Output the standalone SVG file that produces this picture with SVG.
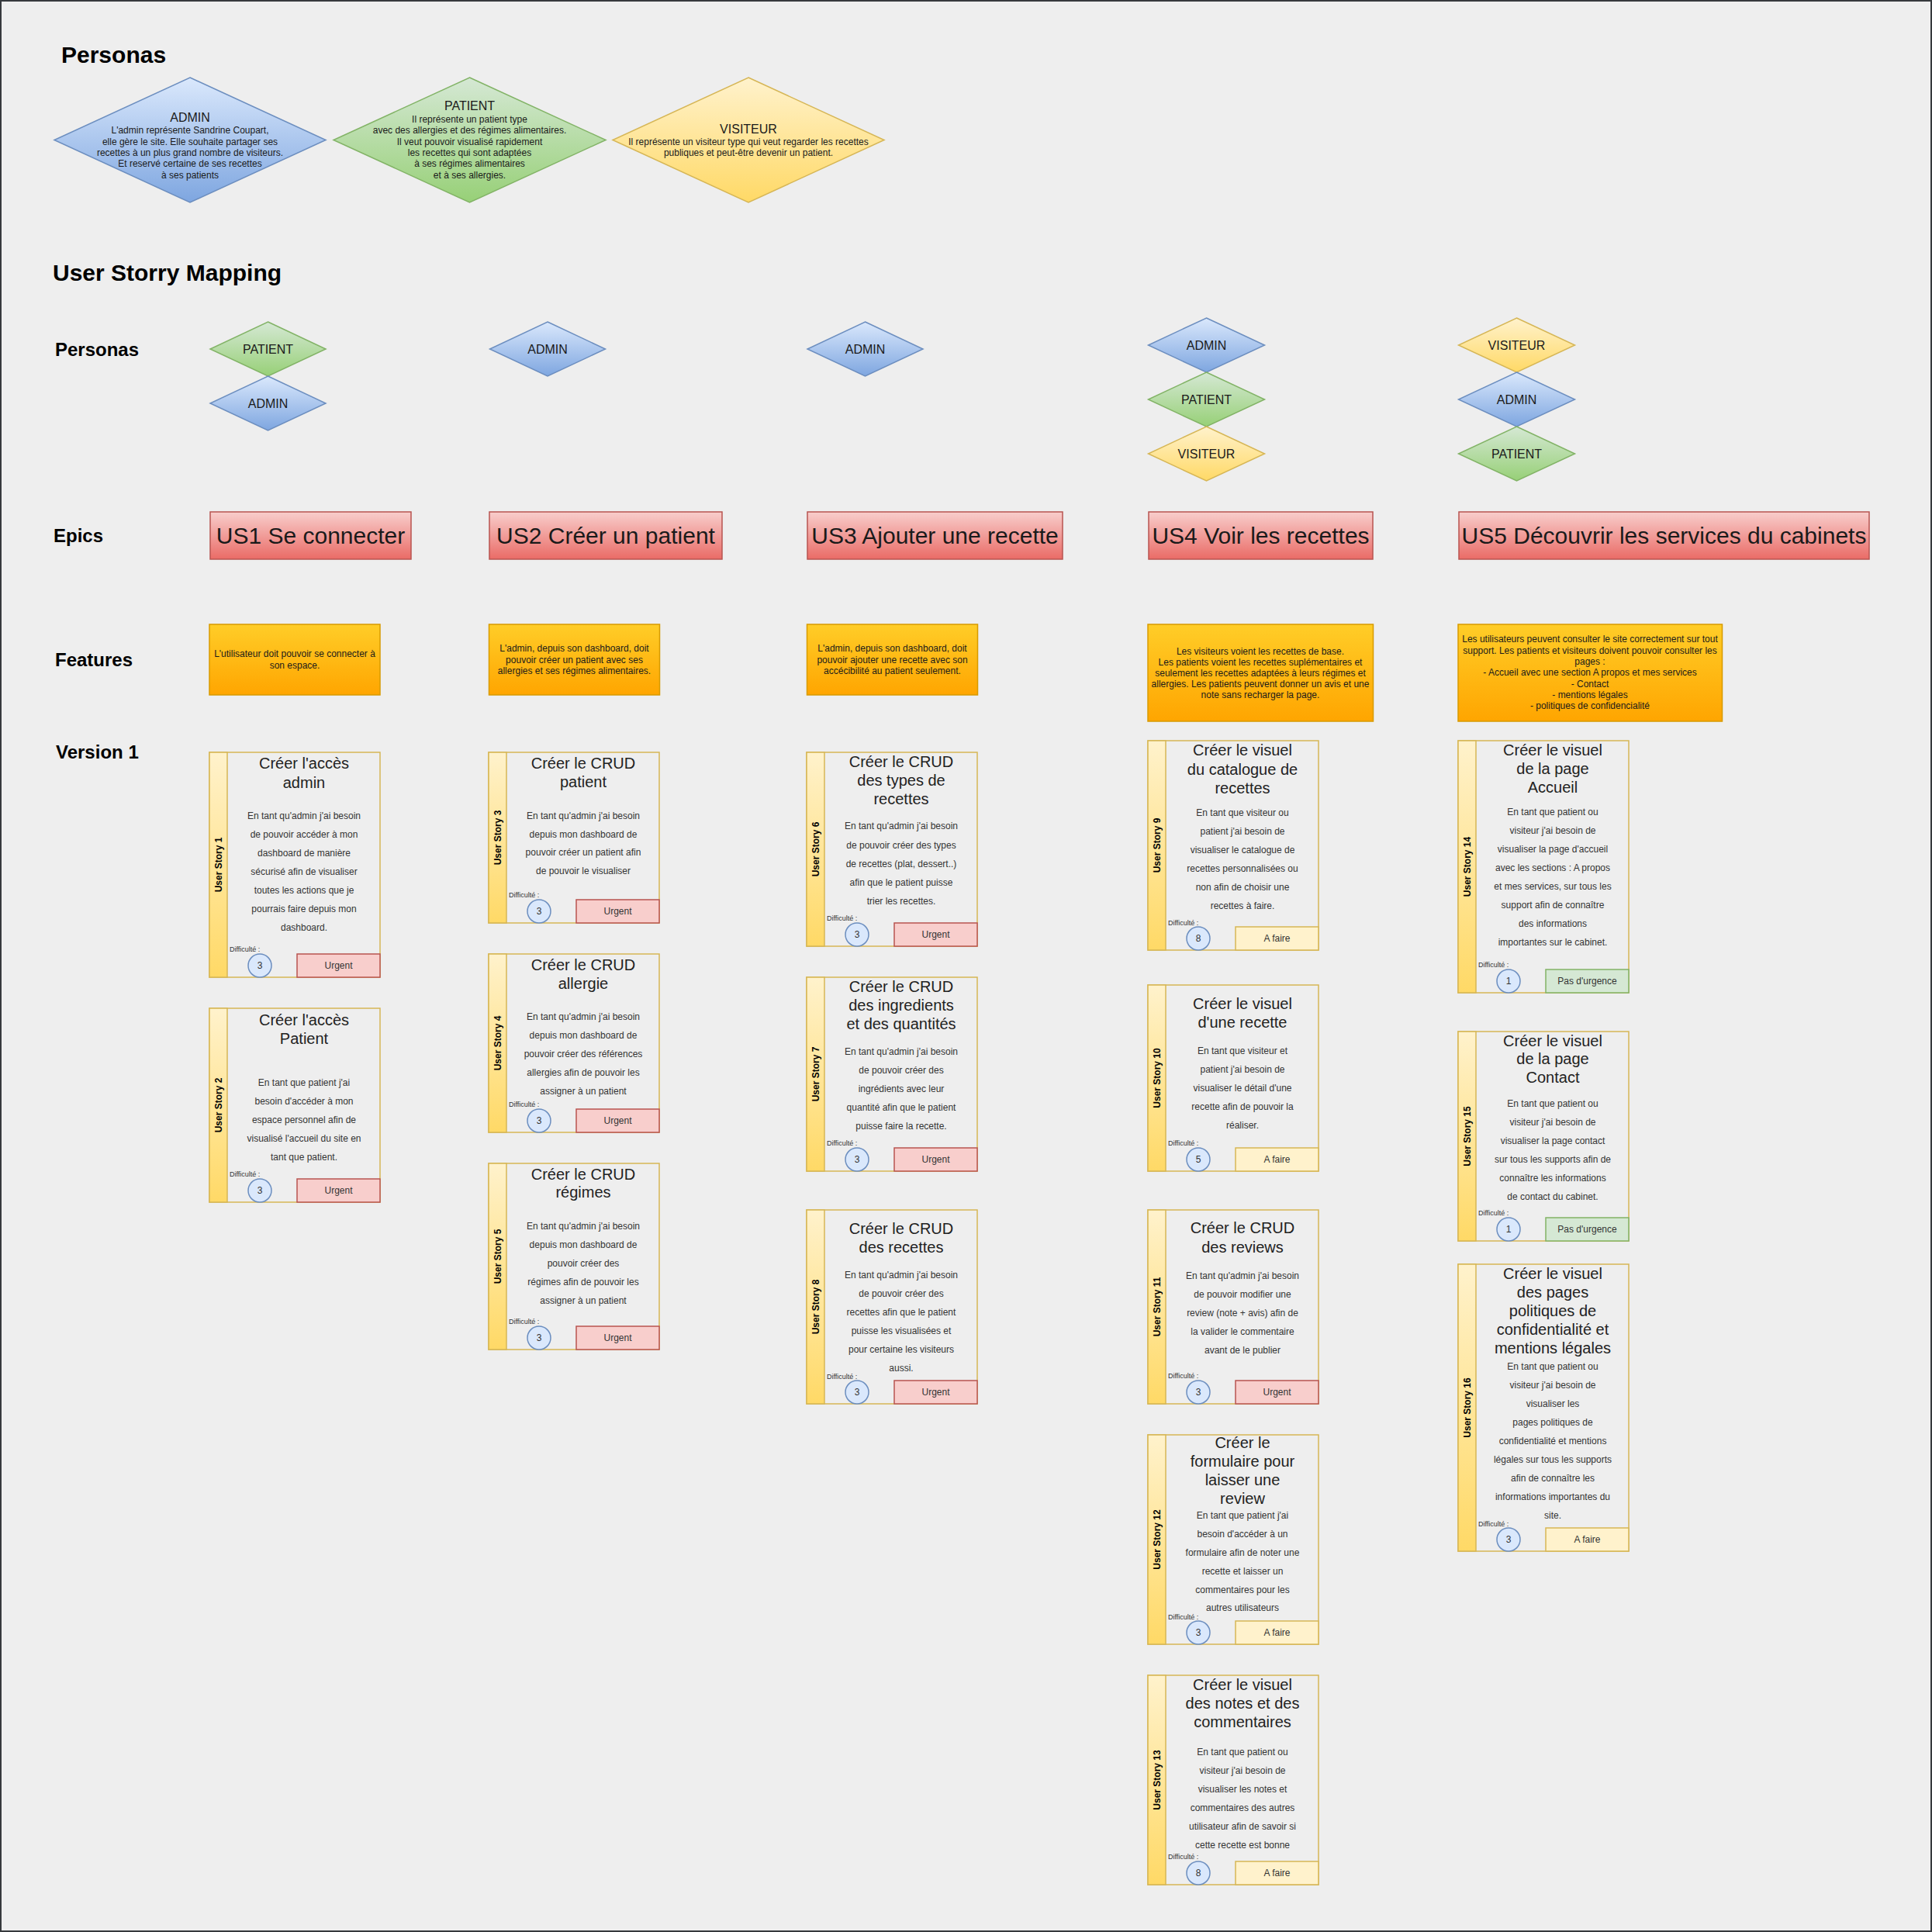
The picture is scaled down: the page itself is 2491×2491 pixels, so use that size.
<svg xmlns="http://www.w3.org/2000/svg" width="2491" height="2491" viewBox="0 0 2491 2491">
<defs>
<linearGradient id="gAdmin" x1="0" y1="0" x2="0" y2="1"><stop offset="0" stop-color="#dae8fc"/><stop offset="1" stop-color="#7ea6e0"/></linearGradient>
<linearGradient id="gPatient" x1="0" y1="0" x2="0" y2="1"><stop offset="0" stop-color="#d5e8d4"/><stop offset="1" stop-color="#97d077"/></linearGradient>
<linearGradient id="gVisit" x1="0" y1="0" x2="0" y2="1"><stop offset="0" stop-color="#fff2cc"/><stop offset="1" stop-color="#ffd966"/></linearGradient>
<linearGradient id="gEpic" x1="0" y1="0" x2="0" y2="1"><stop offset="0" stop-color="#f8cecc"/><stop offset="1" stop-color="#ea6b66"/></linearGradient>
<linearGradient id="gFeat" x1="0" y1="0" x2="0" y2="1"><stop offset="0" stop-color="#ffcd28"/><stop offset="1" stop-color="#ffa500"/></linearGradient>
</defs>
<style>
text{font-family:"Liberation Sans",Arial,sans-serif;fill:#1a1a1a;dominant-baseline:central;}
.hd{font-size:30px;font-weight:bold;fill:#000;}
.row{font-size:24px;font-weight:bold;fill:#000;}
.pa{fill:url(#gAdmin);stroke:#6c8ebf;stroke-width:1.5;}
.pp{fill:url(#gPatient);stroke:#82b366;stroke-width:1.5;}
.pv{fill:url(#gVisit);stroke:#d6b656;stroke-width:1.5;}
.pt{font-size:16px;text-anchor:middle;}
.pb{font-size:12px;text-anchor:middle;}
.epic{fill:url(#gEpic);stroke:#b85450;stroke-width:1.5;}
.et{font-size:30px;text-anchor:middle;}
.feat{fill:url(#gFeat);stroke:#d79b00;stroke-width:1.5;}
.ft{font-size:12px;text-anchor:middle;}
.cb{fill:#eeeeee;stroke:#d6b656;stroke-width:1.5;}
.cbar{fill:url(#gVisit);stroke:#d6b656;stroke-width:1.5;}
.vl{font-size:12px;font-weight:bold;text-anchor:middle;fill:#000;}
.ttl{font-size:20px;text-anchor:middle;fill:#222;}
.bdy{font-size:12px;text-anchor:middle;fill:#333;}
.dif{font-size:9px;fill:#333;}
.circ{fill:#dae8fc;stroke:#6c8ebf;stroke-width:1.5;}
.num{font-size:12px;text-anchor:middle;fill:#333;}
.urg{fill:#f8cecc;stroke:#b85450;stroke-width:1.5;}
.todo{fill:#fff2cc;stroke:#d6b656;stroke-width:1.5;}
.ok{fill:#d5e8d4;stroke:#82b366;stroke-width:1.5;}
.st{font-size:12px;text-anchor:middle;fill:#333;}
</style>
<rect x="1" y="1" width="2489" height="2489" fill="#eeeeee" stroke="#36393d" stroke-width="2"/>

<g id="labels">
<text class="hd" x="79" y="70">Personas</text>
<text class="hd" x="68" y="351">User Storry Mapping</text>
<text class="row" x="71" y="450">Personas</text>
<text class="row" x="69" y="690">Epics</text>
<text class="row" x="71" y="850">Features</text>
<text class="row" x="72" y="969">Version 1</text>
</g>

<g id="persona-admin">
<polygon class="pa" points="245,100 420,180.5 245,261 70,180.5"/>
<text class="pt" x="245" y="151.7">ADMIN</text>
<text class="pb"><tspan x="245" y="168.3">L'admin représente Sandrine Coupart,</tspan><tspan x="245" y="182.7">elle gère le site. Elle souhaite partager ses</tspan><tspan x="245" y="197">recettes à un plus grand nombre de visiteurs.</tspan><tspan x="245" y="211.3">Et reservé certaine de ses recettes</tspan><tspan x="245" y="225.7">à ses patients</tspan></text>
</g>
<g id="persona-patient">
<polygon class="pp" points="605.5,100 781,180.5 605.5,261 430,180.5"/>
<text class="pt" x="605.5" y="136.7">PATIENT</text>
<text class="pb"><tspan x="605.5" y="154">Il représente un patient type</tspan><tspan x="605.5" y="168.3">avec des allergies et des régimes alimentaires.</tspan><tspan x="605.5" y="182.7">Il veut pouvoir visualisé rapidement</tspan><tspan x="605.5" y="197">les recettes qui sont adaptées</tspan><tspan x="605.5" y="211.3">à ses régimes alimentaires</tspan><tspan x="605.5" y="225.7">et à ses allergies.</tspan></text>
</g>
<g id="persona-visiteur">
<polygon class="pv" points="965,100 1140,180.5 965,261 790,180.5"/>
<text class="pt" x="965" y="166">VISITEUR</text>
<text class="pb"><tspan x="965" y="182.7">Il représente un visiteur type qui veut regarder les recettes</tspan><tspan x="965" y="197">publiques et peut-être devenir un patient.</tspan></text>
</g>

<g id="p1-patient"><polygon class="pp" points="345.5,415 420,450 345.5,485 271,450"/><text class="pt" x="345.5" y="450">PATIENT</text></g>
<g id="p1-admin"><polygon class="pa" points="345.5,485 420,520 345.5,555 271,520"/><text class="pt" x="345.5" y="520">ADMIN</text></g>
<g id="p2-admin"><polygon class="pa" points="706,415 780.5,450 706,485 631.5,450"/><text class="pt" x="706" y="450">ADMIN</text></g>
<g id="p3-admin"><polygon class="pa" points="1115.5,415 1190,450 1115.5,485 1041,450"/><text class="pt" x="1115.5" y="450">ADMIN</text></g>
<g id="p4-admin"><polygon class="pa" points="1555.5,410 1630.5,445 1555.5,480 1480.5,445"/><text class="pt" x="1555.5" y="445">ADMIN</text></g>
<g id="p4-patient"><polygon class="pp" points="1555.5,480 1630.5,515 1555.5,550 1480.5,515"/><text class="pt" x="1555.5" y="515">PATIENT</text></g>
<g id="p4-visiteur"><polygon class="pv" points="1555.5,550 1630.5,585 1555.5,620 1480.5,585"/><text class="pt" x="1555.5" y="585">VISITEUR</text></g>
<g id="p5-visiteur"><polygon class="pv" points="1955.5,410 2030.5,445 1955.5,480 1880.5,445"/><text class="pt" x="1955.5" y="445">VISITEUR</text></g>
<g id="p5-admin"><polygon class="pa" points="1955.5,480 2030.5,515 1955.5,550 1880.5,515"/><text class="pt" x="1955.5" y="515">ADMIN</text></g>
<g id="p5-patient"><polygon class="pp" points="1955.5,550 2030.5,585 1955.5,620 1880.5,585"/><text class="pt" x="1955.5" y="585">PATIENT</text></g>

<g id="epic1"><rect class="epic" x="271" y="660" width="259" height="61"/><text class="et" x="400.5" y="690.5">US1 Se connecter</text></g>
<g id="epic2"><rect class="epic" x="631" y="660" width="300" height="61"/><text class="et" x="781" y="690.5">US2 Créer un patient</text></g>
<g id="epic3"><rect class="epic" x="1041" y="660" width="329" height="61"/><text class="et" x="1205.5" y="690.5">US3 Ajouter une recette</text></g>
<g id="epic4"><rect class="epic" x="1481" y="660" width="289" height="61"/><text class="et" x="1625.5" y="690.5">US4 Voir les recettes</text></g>
<g id="epic5"><rect class="epic" x="1881" y="660" width="529" height="61"/><text class="et" x="2145.5" y="690.5">US5 Découvrir les services du cabinets</text></g>

<g id="feat1"><rect class="feat" x="270" y="805" width="220" height="91"/><text class="ft"><tspan x="380" y="843.3">L'utilisateur doit pouvoir se connecter à</tspan><tspan x="380" y="858">son espace.</tspan></text></g>
<g id="feat2"><rect class="feat" x="630.5" y="805" width="220" height="91"/><text class="ft"><tspan x="740.5" y="836">L'admin, depuis son dashboard, doit</tspan><tspan x="740.5" y="850.7">pouvoir créer un patient avec ses</tspan><tspan x="740.5" y="865.3">allergies et ses régimes alimentaires.</tspan></text></g>
<g id="feat3"><rect class="feat" x="1040.5" y="805" width="220" height="91"/><text class="ft"><tspan x="1150.5" y="836">L'admin, depuis son dashboard, doit</tspan><tspan x="1150.5" y="850.7">pouvoir ajouter une recette avec son</tspan><tspan x="1150.5" y="865.3">accécibilité au patient seulement.</tspan></text></g>
<g id="feat4"><rect class="feat" x="1480" y="805" width="290.5" height="125"/><text class="ft"><tspan x="1625" y="840.3">Les visiteurs voient les recettes de base.</tspan><tspan x="1625" y="854.3">Les patients voient les recettes suplémentaires et</tspan><tspan x="1625" y="868.3">seulement les recettes adaptées à leurs régimes et</tspan><tspan x="1625" y="882.3">allergies. Les patients peuvent donner un avis et une</tspan><tspan x="1625" y="896.3">note sans recharger la page.</tspan></text></g>
<g id="feat5"><rect class="feat" x="1880" y="805" width="340.5" height="125"/><text class="ft"><tspan x="2050" y="824.3">Les utilisateurs peuvent consulter le site correctement sur tout</tspan><tspan x="2050" y="838.6">support. Les patients et visiteurs doivent pouvoir consulter les</tspan><tspan x="2050" y="852.9">pages :</tspan><tspan x="2050" y="867.2">- Accueil avec une section A propos et mes services</tspan><tspan x="2050" y="881.5">- Contact</tspan><tspan x="2050" y="895.8">- mentions légales</tspan><tspan x="2050" y="910.1">- politiques de confidencialité</tspan></text></g>

<g id="us1">
<rect class="cb" x="270" y="970" width="220" height="290"/><rect class="cbar" x="270" y="970" width="23" height="290"/>
<text class="vl" transform="translate(281.5,1115) rotate(-90)">User Story 1</text>
<text class="ttl"><tspan x="392" y="984">Créer l'accès</tspan><tspan x="392" y="1008.6">admin</tspan></text>
<text class="bdy"><tspan x="392" y="1052.2">En tant qu'admin j'ai besoin</tspan><tspan x="392" y="1076.1">de pouvoir accéder à mon</tspan><tspan x="392" y="1100">dashboard de manière</tspan><tspan x="392" y="1123.9">sécurisé afin de visualiser</tspan><tspan x="392" y="1147.8">toutes les actions que je</tspan><tspan x="392" y="1171.7">pourrais faire depuis mon</tspan><tspan x="392" y="1195.6">dashboard.</tspan></text>
<text class="dif" x="296" y="1224">Difficulté :</text>
<circle class="circ" cx="335" cy="1245" r="15"/><text class="num" x="335" y="1245">3</text>
<rect class="urg" x="383" y="1230" width="107" height="30"/><text class="st" x="436.5" y="1245">Urgent</text>
</g>
<g id="us2">
<rect class="cb" x="270" y="1300" width="220" height="250"/><rect class="cbar" x="270" y="1300" width="23" height="250"/>
<text class="vl" transform="translate(281.5,1425) rotate(-90)">User Story 2</text>
<text class="ttl"><tspan x="392" y="1314.8">Créer l'accès</tspan><tspan x="392" y="1338.6">Patient</tspan></text>
<text class="bdy"><tspan x="392" y="1395.5">En tant que patient j'ai</tspan><tspan x="392" y="1419.6">besoin d'accéder à mon</tspan><tspan x="392" y="1443.7">espace personnel afin de</tspan><tspan x="392" y="1467.8">visualisé l'accueil du site en</tspan><tspan x="392" y="1491.9">tant que patient.</tspan></text>
<text class="dif" x="296" y="1514">Difficulté :</text>
<circle class="circ" cx="335" cy="1535" r="15"/><text class="num" x="335" y="1535">3</text>
<rect class="urg" x="383" y="1520" width="107" height="30"/><text class="st" x="436.5" y="1535">Urgent</text>
</g>

<g id="us3">
<rect class="cb" x="630" y="970" width="220" height="220"/><rect class="cbar" x="630" y="970" width="23" height="220"/>
<text class="vl" transform="translate(641.5,1080) rotate(-90)">User Story 3</text>
<text class="ttl"><tspan x="752" y="984">Créer le CRUD</tspan><tspan x="752" y="1008">patient</tspan></text>
<text class="bdy"><tspan x="752" y="1052">En tant qu'admin j'ai besoin</tspan><tspan x="752" y="1075.7">depuis mon dashboard de</tspan><tspan x="752" y="1099.4">pouvoir créer un patient afin</tspan><tspan x="752" y="1123.1">de pouvoir le visualiser</tspan></text>
<text class="dif" x="656" y="1154">Difficulté :</text>
<circle class="circ" cx="695" cy="1175" r="15"/><text class="num" x="695" y="1175">3</text>
<rect class="urg" x="743" y="1160" width="107" height="30"/><text class="st" x="796.5" y="1175">Urgent</text>
</g>
<g id="us4">
<rect class="cb" x="630" y="1230" width="220" height="230"/><rect class="cbar" x="630" y="1230" width="23" height="230"/>
<text class="vl" transform="translate(641.5,1345) rotate(-90)">User Story 4</text>
<text class="ttl"><tspan x="752" y="1244">Créer le CRUD</tspan><tspan x="752" y="1267.5">allergie</tspan></text>
<text class="bdy"><tspan x="752" y="1311">En tant qu'admin j'ai besoin</tspan><tspan x="752" y="1335">depuis mon dashboard de</tspan><tspan x="752" y="1359">pouvoir créer des références</tspan><tspan x="752" y="1383">allergies afin de pouvoir les</tspan><tspan x="752" y="1407">assigner à un patient</tspan></text>
<text class="dif" x="656" y="1424">Difficulté :</text>
<circle class="circ" cx="695" cy="1445" r="15"/><text class="num" x="695" y="1445">3</text>
<rect class="urg" x="743" y="1430" width="107" height="30"/><text class="st" x="796.5" y="1445">Urgent</text>
</g>
<g id="us5">
<rect class="cb" x="630" y="1500" width="220" height="240"/><rect class="cbar" x="630" y="1500" width="23" height="240"/>
<text class="vl" transform="translate(641.5,1620) rotate(-90)">User Story 5</text>
<text class="ttl"><tspan x="752" y="1513.6">Créer le CRUD</tspan><tspan x="752" y="1537.3">régimes</tspan></text>
<text class="bdy"><tspan x="752" y="1581">En tant qu'admin j'ai besoin</tspan><tspan x="752" y="1605.1">depuis mon dashboard de</tspan><tspan x="752" y="1629.2">pouvoir créer des</tspan><tspan x="752" y="1653.3">régimes afin de pouvoir les</tspan><tspan x="752" y="1677.4">assigner à un patient</tspan></text>
<text class="dif" x="656" y="1704">Difficulté :</text>
<circle class="circ" cx="695" cy="1725" r="15"/><text class="num" x="695" y="1725">3</text>
<rect class="urg" x="743" y="1710" width="107" height="30"/><text class="st" x="796.5" y="1725">Urgent</text>
</g>

<g id="us6">
<rect class="cb" x="1040" y="970" width="220" height="250"/><rect class="cbar" x="1040" y="970" width="23" height="250"/>
<text class="vl" transform="translate(1051.5,1095) rotate(-90)">User Story 6</text>
<text class="ttl"><tspan x="1162" y="982">Créer le CRUD</tspan><tspan x="1162" y="1005.8">des types de</tspan><tspan x="1162" y="1029.6">recettes</tspan></text>
<text class="bdy"><tspan x="1162" y="1065.3">En tant qu'admin j'ai besoin</tspan><tspan x="1162" y="1089.5">de pouvoir créer des types</tspan><tspan x="1162" y="1113.7">de recettes (plat, dessert..)</tspan><tspan x="1162" y="1137.9">afin que le patient puisse</tspan><tspan x="1162" y="1162.1">trier les recettes.</tspan></text>
<text class="dif" x="1066" y="1184">Difficulté :</text>
<circle class="circ" cx="1105" cy="1205" r="15"/><text class="num" x="1105" y="1205">3</text>
<rect class="urg" x="1153" y="1190" width="107" height="30"/><text class="st" x="1206.5" y="1205">Urgent</text>
</g>
<g id="us7">
<rect class="cb" x="1040" y="1260" width="220" height="250"/><rect class="cbar" x="1040" y="1260" width="23" height="250"/>
<text class="vl" transform="translate(1051.5,1385) rotate(-90)">User Story 7</text>
<text class="ttl"><tspan x="1162" y="1272">Créer le CRUD</tspan><tspan x="1162" y="1296">des ingredients</tspan><tspan x="1162" y="1320">et des quantités</tspan></text>
<text class="bdy"><tspan x="1162" y="1355.5">En tant qu'admin j'ai besoin</tspan><tspan x="1162" y="1379.5">de pouvoir créer des</tspan><tspan x="1162" y="1403.5">ingrédients avec leur</tspan><tspan x="1162" y="1427.5">quantité afin que le patient</tspan><tspan x="1162" y="1451.5">puisse faire la recette.</tspan></text>
<text class="dif" x="1066" y="1474">Difficulté :</text>
<circle class="circ" cx="1105" cy="1495" r="15"/><text class="num" x="1105" y="1495">3</text>
<rect class="urg" x="1153" y="1480" width="107" height="30"/><text class="st" x="1206.5" y="1495">Urgent</text>
</g>
<g id="us8">
<rect class="cb" x="1040" y="1560" width="220" height="250"/><rect class="cbar" x="1040" y="1560" width="23" height="250"/>
<text class="vl" transform="translate(1051.5,1685) rotate(-90)">User Story 8</text>
<text class="ttl"><tspan x="1162" y="1583.7">Créer le CRUD</tspan><tspan x="1162" y="1607.8">des recettes</tspan></text>
<text class="bdy"><tspan x="1162" y="1644">En tant qu'admin j'ai besoin</tspan><tspan x="1162" y="1667.9">de pouvoir créer des</tspan><tspan x="1162" y="1691.8">recettes afin que le patient</tspan><tspan x="1162" y="1715.7">puisse les visualisées et</tspan><tspan x="1162" y="1739.6">pour certaine les visiteurs</tspan><tspan x="1162" y="1763.5">aussi.</tspan></text>
<text class="dif" x="1066" y="1775">Difficulté :</text>
<circle class="circ" cx="1105" cy="1795" r="15"/><text class="num" x="1105" y="1795">3</text>
<rect class="urg" x="1153" y="1780" width="107" height="30"/><text class="st" x="1206.5" y="1795">Urgent</text>
</g>

<g id="us9">
<rect class="cb" x="1480" y="955" width="220" height="270"/><rect class="cbar" x="1480" y="955" width="23" height="270"/>
<text class="vl" transform="translate(1491.5,1090) rotate(-90)">User Story 9</text>
<text class="ttl"><tspan x="1602" y="967.4">Créer le visuel</tspan><tspan x="1602" y="991.5">du catalogue de</tspan><tspan x="1602" y="1015.6">recettes</tspan></text>
<text class="bdy"><tspan x="1602" y="1048.3">En tant que visiteur ou</tspan><tspan x="1602" y="1072.3">patient j'ai besoin de</tspan><tspan x="1602" y="1096.3">visualiser le catalogue de</tspan><tspan x="1602" y="1120.3">recettes personnalisées ou</tspan><tspan x="1602" y="1144.3">non afin de choisir une</tspan><tspan x="1602" y="1168.3">recettes à faire.</tspan></text>
<text class="dif" x="1506" y="1189.5">Difficulté :</text>
<circle class="circ" cx="1545" cy="1210" r="15"/><text class="num" x="1545" y="1210">8</text>
<rect class="todo" x="1593" y="1195" width="107" height="30"/><text class="st" x="1646.5" y="1210">A faire</text>
</g>
<g id="us10">
<rect class="cb" x="1480" y="1270" width="220" height="240"/><rect class="cbar" x="1480" y="1270" width="23" height="240"/>
<text class="vl" transform="translate(1491.5,1390) rotate(-90)">User Story 10</text>
<text class="ttl"><tspan x="1602" y="1294">Créer le visuel</tspan><tspan x="1602" y="1317.6">d'une recette</tspan></text>
<text class="bdy"><tspan x="1602" y="1355.2">En tant que visiteur et</tspan><tspan x="1602" y="1379.2">patient j'ai besoin de</tspan><tspan x="1602" y="1403.2">visualiser le détail d'une</tspan><tspan x="1602" y="1427.2">recette afin de pouvoir la</tspan><tspan x="1602" y="1451.2">réaliser.</tspan></text>
<text class="dif" x="1506" y="1474">Difficulté :</text>
<circle class="circ" cx="1545" cy="1495" r="15"/><text class="num" x="1545" y="1495">5</text>
<rect class="todo" x="1593" y="1480" width="107" height="30"/><text class="st" x="1646.5" y="1495">A faire</text>
</g>
<g id="us11">
<rect class="cb" x="1480" y="1560" width="220" height="250"/><rect class="cbar" x="1480" y="1560" width="23" height="250"/>
<text class="vl" transform="translate(1491.5,1685) rotate(-90)">User Story 11</text>
<text class="ttl"><tspan x="1602" y="1583">Créer le CRUD</tspan><tspan x="1602" y="1607.7">des reviews</tspan></text>
<text class="bdy"><tspan x="1602" y="1645.3">En tant qu'admin j'ai besoin</tspan><tspan x="1602" y="1669.2">de pouvoir modifier une</tspan><tspan x="1602" y="1693.1">review (note + avis) afin de</tspan><tspan x="1602" y="1717">la valider le commentaire</tspan><tspan x="1602" y="1740.9">avant de le publier</tspan></text>
<text class="dif" x="1506" y="1774">Difficulté :</text>
<circle class="circ" cx="1545" cy="1795" r="15"/><text class="num" x="1545" y="1795">3</text>
<rect class="urg" x="1593" y="1780" width="107" height="30"/><text class="st" x="1646.5" y="1795">Urgent</text>
</g>
<g id="us12">
<rect class="cb" x="1480" y="1850" width="220" height="270"/><rect class="cbar" x="1480" y="1850" width="23" height="270"/>
<text class="vl" transform="translate(1491.5,1985) rotate(-90)">User Story 12</text>
<text class="ttl"><tspan x="1602" y="1860.3">Créer le</tspan><tspan x="1602" y="1884.3">formulaire pour</tspan><tspan x="1602" y="1908.3">laisser une</tspan><tspan x="1602" y="1932.3">review</tspan></text>
<text class="bdy"><tspan x="1602" y="1954.4">En tant que patient j'ai</tspan><tspan x="1602" y="1978.2">besoin d'accéder à un</tspan><tspan x="1602" y="2002">formulaire afin de noter une</tspan><tspan x="1602" y="2025.8">recette et laisser un</tspan><tspan x="1602" y="2049.6">commentaires pour les</tspan><tspan x="1602" y="2073.4">autres utilisateurs</tspan></text>
<text class="dif" x="1506" y="2085">Difficulté :</text>
<circle class="circ" cx="1545" cy="2105" r="15"/><text class="num" x="1545" y="2105">3</text>
<rect class="todo" x="1593" y="2090" width="107" height="30"/><text class="st" x="1646.5" y="2105">A faire</text>
</g>
<g id="us13">
<rect class="cb" x="1480" y="2160" width="220" height="270"/><rect class="cbar" x="1480" y="2160" width="23" height="270"/>
<text class="vl" transform="translate(1491.5,2295) rotate(-90)">User Story 13</text>
<text class="ttl"><tspan x="1602" y="2172.2">Créer le visuel</tspan><tspan x="1602" y="2196.3">des notes et des</tspan><tspan x="1602" y="2220.4">commentaires</tspan></text>
<text class="bdy"><tspan x="1602" y="2258.7">En tant que patient ou</tspan><tspan x="1602" y="2282.7">visiteur j'ai besoin de</tspan><tspan x="1602" y="2306.7">visualiser les notes et</tspan><tspan x="1602" y="2330.7">commentaires des autres</tspan><tspan x="1602" y="2354.7">utilisateur afin de savoir si</tspan><tspan x="1602" y="2378.7">cette recette est bonne</tspan></text>
<text class="dif" x="1506" y="2394">Difficulté :</text>
<circle class="circ" cx="1545" cy="2415" r="15"/><text class="num" x="1545" y="2415">8</text>
<rect class="todo" x="1593" y="2400" width="107" height="30"/><text class="st" x="1646.5" y="2415">A faire</text>
</g>

<g id="us14">
<rect class="cb" x="1880" y="955" width="220" height="325"/><rect class="cbar" x="1880" y="955" width="23" height="325"/>
<text class="vl" transform="translate(1891.5,1117.5) rotate(-90)">User Story 14</text>
<text class="ttl"><tspan x="2002" y="966.8">Créer le visuel</tspan><tspan x="2002" y="990.7">de la page</tspan><tspan x="2002" y="1014.6">Accueil</tspan></text>
<text class="bdy"><tspan x="2002" y="1047.4">En tant que patient ou</tspan><tspan x="2002" y="1071.4">visiteur j'ai besoin de</tspan><tspan x="2002" y="1095.4">visualiser la page d'accueil</tspan><tspan x="2002" y="1119.4">avec les sections :  A propos</tspan><tspan x="2002" y="1143.4">et mes services, sur tous les</tspan><tspan x="2002" y="1167.4">support afin de connaître</tspan><tspan x="2002" y="1191.4">des informations</tspan><tspan x="2002" y="1215.4">importantes sur le cabinet.</tspan></text>
<text class="dif" x="1906" y="1243.5">Difficulté :</text>
<circle class="circ" cx="1945" cy="1265" r="15"/><text class="num" x="1945" y="1265">1</text>
<rect class="ok" x="1993" y="1250" width="107" height="30"/><text class="st" x="2046.5" y="1265">Pas d'urgence</text>
</g>
<g id="us15">
<rect class="cb" x="1880" y="1330" width="220" height="270"/><rect class="cbar" x="1880" y="1330" width="23" height="270"/>
<text class="vl" transform="translate(1891.5,1465) rotate(-90)">User Story 15</text>
<text class="ttl"><tspan x="2002" y="1341.5">Créer le visuel</tspan><tspan x="2002" y="1365.4">de la page</tspan><tspan x="2002" y="1389.3">Contact</tspan></text>
<text class="bdy"><tspan x="2002" y="1423.4">En tant que patient ou</tspan><tspan x="2002" y="1447.4">visiteur j'ai besoin de</tspan><tspan x="2002" y="1471.4">visualiser la page contact</tspan><tspan x="2002" y="1495.4">sur tous les supports afin de</tspan><tspan x="2002" y="1519.4">connaître les informations</tspan><tspan x="2002" y="1543.4">de contact du cabinet.</tspan></text>
<text class="dif" x="1906" y="1564">Difficulté :</text>
<circle class="circ" cx="1945" cy="1585" r="15"/><text class="num" x="1945" y="1585">1</text>
<rect class="ok" x="1993" y="1570" width="107" height="30"/><text class="st" x="2046.5" y="1585">Pas d'urgence</text>
</g>
<g id="us16">
<rect class="cb" x="1880" y="1630" width="220" height="370"/><rect class="cbar" x="1880" y="1630" width="23" height="370"/>
<text class="vl" transform="translate(1891.5,1815) rotate(-90)">User Story 16</text>
<text class="ttl"><tspan x="2002" y="1642.4">Créer le visuel</tspan><tspan x="2002" y="1666.4">des pages</tspan><tspan x="2002" y="1690.4">politiques de</tspan><tspan x="2002" y="1714.4">confidentialité et</tspan><tspan x="2002" y="1738.4">mentions légales</tspan></text>
<text class="bdy"><tspan x="2002" y="1761.8">En tant que patient ou</tspan><tspan x="2002" y="1785.8">visiteur j'ai besoin de</tspan><tspan x="2002" y="1809.8">visualiser les</tspan><tspan x="2002" y="1833.8">pages politiques de</tspan><tspan x="2002" y="1857.8">confidentialité et mentions</tspan><tspan x="2002" y="1881.8">légales sur tous les supports</tspan><tspan x="2002" y="1905.8">afin de connaître les</tspan><tspan x="2002" y="1929.8">informations importantes du</tspan><tspan x="2002" y="1953.8">site.</tspan></text>
<text class="dif" x="1906" y="1964.5">Difficulté :</text>
<circle class="circ" cx="1945" cy="1985" r="15"/><text class="num" x="1945" y="1985">3</text>
<rect class="todo" x="1993" y="1970" width="107" height="30"/><text class="st" x="2046.5" y="1985">A faire</text>
</g>

<g id="connectors"></g>
</svg>
